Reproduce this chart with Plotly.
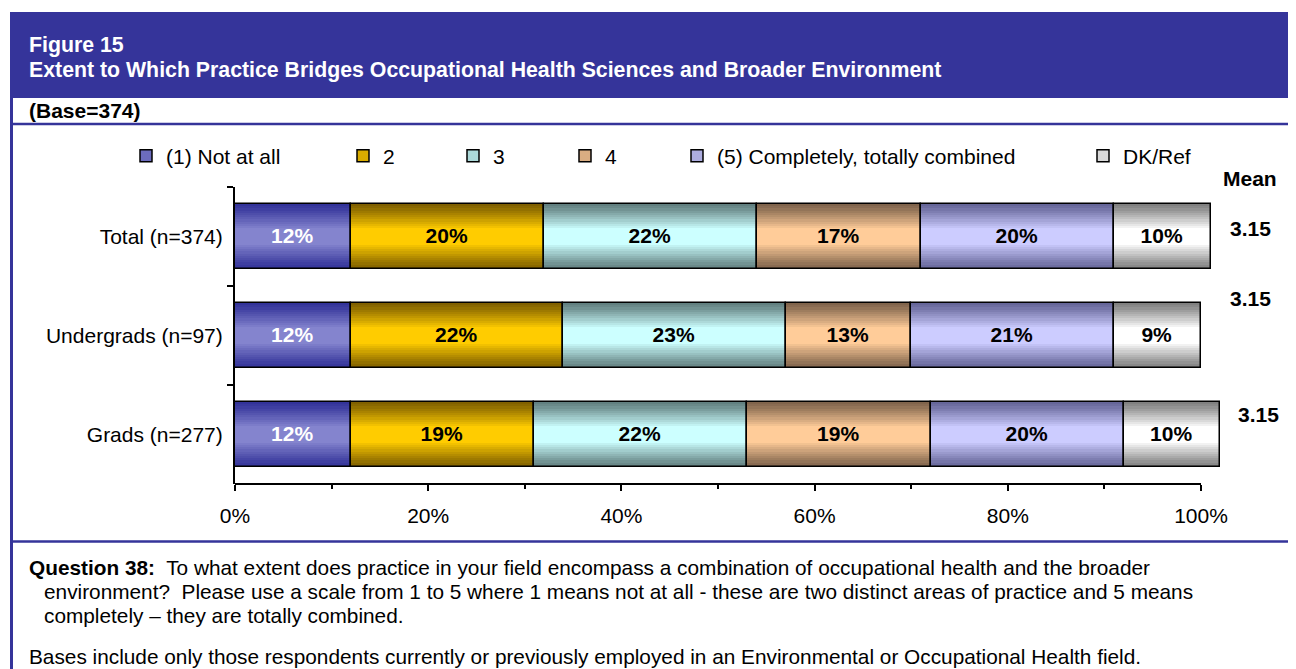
import plotly.graph_objects as go

# ---------------- data ----------------
categories = ["Total (n=374)", "Undergrads (n=97)", "Grads (n=277)"]
series_names = ["(1) Not at all", "2", "3", "4", "(5) Completely, totally combined", "DK/Ref"]
not_at_all = [12, 12, 12]
rating_2 = [20, 22, 19]
rating_3 = [22, 23, 22]
rating_4 = [17, 13, 19]
completely = [20, 21, 20]
dk_ref = [10, 9, 10]
means = [3.15, 3.15, 3.15]
x_tick_vals = [0, 20, 40, 60, 80, 100]
x_tick_labels = ["0%", "20%", "40%", "60%", "80%", "100%"]
x_minor_vals = [10, 30, 50, 70, 90]

# ---------------- style ----------------
OFF = 8                      # page body margin of the html page
W, H = 1296 - OFF, 669 - OFF
FONT = "Liberation Sans, Arial, sans-serif"
NAVY = "#35349A"
edge_colors = [(51, 51, 153), (128, 96, 0), (98, 128, 128), (128, 100, 76), (102, 102, 153), (128, 128, 128)]
mid_colors = [(132, 132, 206), (255, 204, 0), (204, 255, 255), (255, 204, 153), (204, 204, 255), (255, 255, 255)]
label_colors = ["white", "black", "black", "black", "black", "black"]
BAR_W = 0.66
STEPS = 12


def px_x(p):
    return (p - OFF) / W


def px_y(p):
    return 1 - (p - OFF) / H


def mix(a, b, t):
    return "rgb(%d,%d,%d)" % tuple(round(a[i] + (b[i] - a[i]) * t) for i in range(3))


series = [not_at_all, rating_2, rating_3, rating_4, completely, dk_ref]

fig = go.Figure()
bases = [0] * len(categories)
for i, vals in enumerate(series):
    # banded vertical gradient built from nested overlaid bars
    for k in range(STEPS):
        t = k / (STEPS - 1)
        fig.add_trace(go.Bar(
            y=categories, x=vals, base=bases, orientation="h",
            width=BAR_W * (1 - 0.75 * t),
            marker=dict(color=mix(edge_colors[i], mid_colors[i], t ** 1.1), line=dict(width=0)),
            showlegend=False, hoverinfo="skip",
        ))
    # outline + value labels
    fig.add_trace(go.Bar(
        y=categories, x=vals, base=bases, orientation="h", width=BAR_W,
        marker=dict(color="rgba(0,0,0,0)", line=dict(color="black", width=1.5)),
        text=[f"{v}%" for v in vals], textposition="inside", insidetextanchor="middle",
        textangle=0, constraintext="none",
        insidetextfont=dict(family=FONT, size=21, color=label_colors[i], weight="bold"),
        showlegend=False, name=series_names[i],
    ))
    # legend entry
    fig.add_trace(go.Bar(
        y=[categories[0]], x=[None], orientation="h", name=series_names[i],
        marker=dict(color=mix(edge_colors[i], mid_colors[i], 0.7), line=dict(color="black", width=1.5)),
        legend="legend" if i == 0 else f"legend{i + 1}", showlegend=True,
    ))
    bases = [b + v for b, v in zip(bases, vals)]

legend_icon_left = [146, 363, 473, 585, 697, 1103]
legends = {}
for i, lx in enumerate(legend_icon_left):
    key = "legend" if i == 0 else f"legend{i + 1}"
    legends[key] = dict(
        x=px_x(lx - 20), y=px_y(156), xanchor="left", yanchor="middle",
        orientation="h", bgcolor="rgba(0,0,0,0)", borderwidth=0,
        font=dict(family=FONT, size=21, color="black"),
    )

y_top, y_bot = 187, 484
x_left, x_right = 235, 1230
x_max = 100 * (x_right - x_left) / (1201 - x_left)

annotations = []


def add_text(text, x, y, size=21, color="black", bold=False, xanchor="left", xref="paper", yref="paper", yshift=0):
    annotations.append(dict(
        text=text, x=x, y=y, xref=xref, yref=yref, xanchor=xanchor, yanchor="middle",
        showarrow=False, yshift=yshift,
        font=dict(family=FONT, size=size, color=color, weight="bold" if bold else "normal"),
    ))


add_text("Figure 15", px_x(27), px_y(45), size=21.3, color="white", bold=True)
add_text("Extent to Which Practice Bridges Occupational Health Sciences and Broader Environment",
         px_x(27), px_y(70), size=21.3, color="white", bold=True)
add_text("(Base=374)", px_x(27), px_y(111), bold=True)
add_text("Mean", px_x(1250), px_y(178), bold=True, xanchor="center")
mean_x = [1250, 1250, 1258]
mean_shift = [8, 37, 20]
for c, m, mx, sh in zip(categories, means, mean_x, mean_shift):
    add_text(f"{m:.2f}", px_x(mx), c, bold=True, xanchor="center", yref="y", yshift=sh)

add_text("<b>Question 38:</b>\u00a0 To what extent does practice in your field encompass a combination of occupational health and the broader",
         px_x(27), px_y(567), size=20.8)
add_text("environment?\u00a0 Please use a scale from 1 to 5 where 1 means not at all - these are two distinct areas of practice and 5 means",
         px_x(42), px_y(591), size=20.8)
add_text("completely \u2013 they are totally combined.", px_x(42), px_y(615), size=20.8)
add_text("Bases include only those respondents currently or previously employed in an Environmental or Occupational Health field.",
         px_x(27), px_y(656), size=20.8)

shapes = [
    dict(type="rect", xref="paper", yref="paper", x0=px_x(10), x1=1, y0=px_y(98), y1=px_y(12),
         fillcolor=NAVY, line=dict(width=0), layer="below"),
    dict(type="line", xref="paper", yref="paper", x0=px_x(11.5), x1=px_x(11.5), y0=0, y1=px_y(12),
         line=dict(color=NAVY, width=3)),
    dict(type="line", xref="paper", yref="paper", x0=px_x(10), x1=1, y0=px_y(124), y1=px_y(124),
         line=dict(color=NAVY, width=2.5)),
    dict(type="line", xref="paper", yref="paper", x0=px_x(10), x1=1, y0=px_y(541.5), y1=px_y(541.5),
         line=dict(color=NAVY, width=2.5)),
    # x axis line spanning 0-100 %
    dict(type="line", xref="x", yref="paper", x0=0, x1=100, y0=px_y(y_bot), y1=px_y(y_bot),
         line=dict(color="black", width=2)),
]

fig.update_layout(
    width=W, height=H, margin=dict(l=0, r=0, t=0, b=0, autoexpand=False),
    paper_bgcolor="white", plot_bgcolor="white",
    barmode="overlay", bargap=0,
    font=dict(family=FONT, size=21, color="black"),
    xaxis=dict(
        domain=[px_x(x_left), px_x(x_right)], range=[0, x_max], automargin=False,
        tickvals=x_tick_vals, ticktext=x_tick_labels,
        ticks="outside", ticklen=6, tickwidth=1.5, tickcolor="black",
        minor=dict(tickvals=x_minor_vals, ticks="outside", ticklen=4, tickwidth=1.5, tickcolor="black"),
        showline=False, showgrid=False, zeroline=False, ticklabelstandoff=7,
        tickfont=dict(family=FONT, size=21, color="black"), fixedrange=True,
    ),
    yaxis=dict(
        domain=[px_y(y_bot), px_y(y_top)], type="category", automargin=False,
        categoryorder="array", categoryarray=categories, range=[2.5, -0.5],
        showline=True, linecolor="black", linewidth=2,
        ticks="outside", tickson="boundaries", ticklen=6, tickwidth=2, tickcolor="black",
        showgrid=False, zeroline=False, ticklabelstandoff=6,
        tickfont=dict(family=FONT, size=21, color="black"), fixedrange=True,
    ),
    shapes=shapes, annotations=annotations,
    showlegend=True,
    **legends,
)

fig.write_html("out.html")
